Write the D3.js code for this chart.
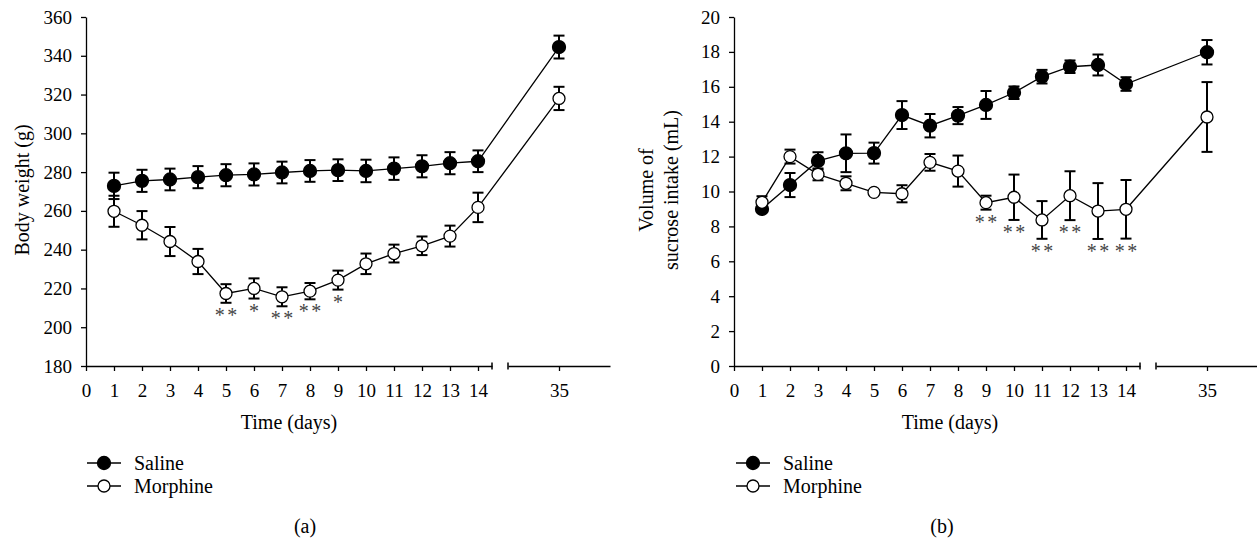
<!DOCTYPE html>
<html>
<head>
<meta charset="utf-8">
<style>
    body { margin: 0; background: white; }
    svg { display: block; font-family: 'Liberation Serif', 'Times New Roman', serif; }
</style>
</head>
<body>
<svg width="1257" height="541"></svg>

<script src="https://d3js.org/d3.v7.min.js"></script>
<script>
    // data
    let days = [1, 2, 3, 4, 5, 6, 7, 8, 9, 10, 11, 12, 13, 14, 35]

    let weightSaline = [272.9, 275.5, 276.2, 277.4, 278.4, 278.8, 279.8, 280.6, 281.0, 280.6, 281.8, 283.0, 284.6, 285.6, 344.5]
    let weightSalineSem = [6.8, 5.7, 5.6, 5.7, 5.7, 5.7, 5.6, 5.6, 5.6, 5.8, 5.8, 5.7, 5.7, 5.6, 5.9]
    let weightMorphine = [259.8, 252.6, 244.2, 233.9, 217.4, 220.0, 215.7, 218.6, 224.3, 232.7, 238.0, 242.0, 247.0, 261.8, 318.0]
    let weightMorphineSem = [8.0, 7.3, 7.5, 6.5, 4.8, 5.2, 4.9, 4.2, 4.9, 5.3, 4.6, 4.8, 5.4, 7.6, 6.0]
    let weightSig = [0, 0, 0, 0, 2, 1, 2, 2, 1, 0, 0, 0, 0, 0, 0]

    let sucroseSaline = [9.0, 10.37, 11.75, 12.19, 12.2, 14.38, 13.77, 14.35, 14.96, 15.66, 16.58, 17.15, 17.25, 16.16, 17.98]
    let sucroseSalineSem = [0.15, 0.69, 0.5, 1.08, 0.6, 0.8, 0.67, 0.49, 0.8, 0.36, 0.39, 0.36, 0.6, 0.39, 0.7]
    let sucroseMorphine = [9.38, 12.0, 10.98, 10.47, 9.95, 9.87, 11.67, 11.17, 9.36, 9.67, 8.37, 9.76, 8.88, 8.98, 14.27]
    let sucroseMorphineSem = [0.35, 0.4, 0.34, 0.4, 0.1, 0.49, 0.48, 0.89, 0.4, 1.3, 1.08, 1.4, 1.6, 1.68, 2.0]
    let sucroseSig = [0, 0, 0, 0, 0, 0, 0, 0, 2, 2, 2, 2, 2, 2, 0]

    let weightTicks = d3.range(180, 361, 20)
    let sucroseTicks = d3.range(0, 21, 2)
    let dayTicks = d3.range(0, 15)
    let lateTicks = [35]

    let seriesNames = ["Saline", "Morphine"]

    let svg = d3.select("svg")
    let serif = "'Liberation Serif', 'Times New Roman', serif"

    function styleAxis(sel) {
        sel.attr("font-family", serif).attr("font-size", 19)
        sel.selectAll("text").attr("fill", "black")
        sel.selectAll("path, line").attr("stroke", "black").attr("stroke-width", 1.3)
    }

    function drawPanel(opt) {
        let g = svg.append("g")
        let pxPerDay = 28
        let x1 = d3.scaleLinear().domain([0, 14.5]).range([opt.left, opt.left + 14.5 * pxPerDay])
        let half = 51 / pxPerDay
        let x2 = d3.scaleLinear().domain([35 - half, 35 + half]).range([opt.x35 - 51, opt.x35 + 51])
        let xPos = d => d <= 14.5 ? x1(d) : x2(d)
        let y = d3.scaleLinear().domain(opt.yDomain).range([366, 17])

        // axes
        g.append("g")
            .attr("transform", "translate(0,366)")
            .call(d3.axisBottom(x1).tickValues(dayTicks).tickFormat(d3.format("d"))
                .tickSize(5).tickPadding(13).tickSizeOuter(0))
            .call(styleAxis)
        g.append("g")
            .attr("transform", "translate(0,366)")
            .call(d3.axisBottom(x2).tickValues(lateTicks).tickFormat(d3.format("d"))
                .tickSize(5).tickPadding(13).tickSizeOuter(0))
            .call(styleAxis)
        g.append("g")
            .attr("transform", "translate(" + opt.left + ",0)")
            .call(d3.axisLeft(y).tickValues(opt.yTicks).tickFormat(d3.format("d"))
                .tickSize(5).tickPadding(9).tickSizeOuter(0))
            .call(styleAxis)

        // break caps on the x axis
        g.selectAll(".cap")
            .data([x1.range()[1], x2.range()[0]])
            .join("line")
            .attr("x1", d => d).attr("x2", d => d)
            .attr("y1", 362.5).attr("y2", 369.5)
            .attr("stroke", "black").attr("stroke-width", 1.5)

        let line = d3.line().x(d => xPos(d.day)).y(d => y(d.v))

        opt.series.forEach((s, si) => {
            let pts = days.map((d, i) => ({ day: d, v: s.values[i], e: s.sem[i] }))

            g.append("path")
                .datum(pts)
                .attr("d", line)
                .attr("fill", "none")
                .attr("stroke", "black")
                .attr("stroke-width", 1.3)

            let bars = g.append("g")
                .attr("stroke", "black")
                .attr("stroke-width", 2)
            bars.selectAll(".v").data(pts).join("line")
                .attr("x1", d => xPos(d.day)).attr("x2", d => xPos(d.day))
                .attr("y1", d => y(d.v + d.e)).attr("y2", d => y(d.v - d.e))
            bars.selectAll(".t").data(pts).join("line")
                .attr("x1", d => xPos(d.day) - 5.5).attr("x2", d => xPos(d.day) + 5.5)
                .attr("y1", d => y(d.v + d.e)).attr("y2", d => y(d.v + d.e))
            bars.selectAll(".b").data(pts).join("line")
                .attr("x1", d => xPos(d.day) - 5.5).attr("x2", d => xPos(d.day) + 5.5)
                .attr("y1", d => y(d.v - d.e)).attr("y2", d => y(d.v - d.e))

            g.append("g").selectAll("circle")
                .data(pts)
                .join("circle")
                .attr("cx", d => xPos(d.day))
                .attr("cy", d => y(d.v))
                .attr("r", si == 0 ? 6.5 : 6)
                .attr("fill", si == 0 ? "black" : "white")
                .attr("stroke", "black")
                .attr("stroke-width", 1.3)

            if (s.sig) {
                // one text per asterisk, a pair sits either side of the tick
                let stars = []
                pts.forEach((p, i) => {
                    let n = s.sig[i]
                    for (let k = 0; k < n; k++) {
                        let dx = n == 1 ? 0 : (k == 0 ? -6.2 : 6.2)
                        stars.push({ x: xPos(p.day) + dx, y: y(p.v - p.e) })
                    }
                })
                g.append("g").selectAll("text")
                    .data(stars)
                    .join("text")
                    .attr("x", d => d.x)
                    .attr("y", d => d.y + 19)
                    .attr("text-anchor", "middle")
                    .attr("font-size", 20)
                    .attr("fill", "#444")
                    .text("*")
            }
        })

        // axis titles
        g.append("text")
            .attr("x", opt.xTitle).attr("y", 429)
            .attr("text-anchor", "middle")
            .attr("font-size", 20)
            .text("Time (days)")

        opt.yTitle.forEach((t, i) => {
            g.append("text")
                .attr("transform", "translate(" + opt.yTitleX[i] + "," + opt.yTitleY + ") rotate(-90)")
                .attr("text-anchor", "middle")
                .attr("font-size", 20)
                .text(t)
        })

        // legend
        let leg = g.append("g")
        seriesNames.forEach((name, i) => {
            let ly = 463 + i * 23
            leg.append("line")
                .attr("x1", opt.legX).attr("x2", opt.legX + 34)
                .attr("y1", ly).attr("y2", ly)
                .attr("stroke", "black").attr("stroke-width", 1.3)
            leg.append("circle")
                .attr("cx", opt.legX + 17).attr("cy", ly)
                .attr("r", i == 0 ? 6.5 : 6)
                .attr("fill", i == 0 ? "black" : "white")
                .attr("stroke", "black").attr("stroke-width", 1.3)
            leg.append("text")
                .attr("x", opt.legX + 47).attr("y", ly + 7)
                .attr("font-size", 20)
                .text(name)
        })

        g.append("text")
            .attr("x", opt.xLabel).attr("y", 533)
            .attr("text-anchor", "middle")
            .attr("font-size", 20)
            .text(opt.label)
    }

    drawPanel({
        left: 86, x35: 559,
        yDomain: [180, 360], yTicks: weightTicks,
        series: [
            { values: weightSaline, sem: weightSalineSem },
            { values: weightMorphine, sem: weightMorphineSem, sig: weightSig }
        ],
        xTitle: 289,
        yTitle: ["Body weight (g)"], yTitleX: [29], yTitleY: 190,
        legX: 87, xLabel: 305, label: "(a)"
    })

    drawPanel({
        left: 734, x35: 1207,
        yDomain: [0, 20], yTicks: sucroseTicks,
        series: [
            { values: sucroseSaline, sem: sucroseSalineSem },
            { values: sucroseMorphine, sem: sucroseMorphineSem, sig: sucroseSig }
        ],
        xTitle: 950,
        yTitle: ["Volume of", "sucrose intake (mL)"], yTitleX: [653, 678], yTitleY: 190,
        legX: 736, xLabel: 942, label: "(b)"
    })
</script>
</body>
</html>
